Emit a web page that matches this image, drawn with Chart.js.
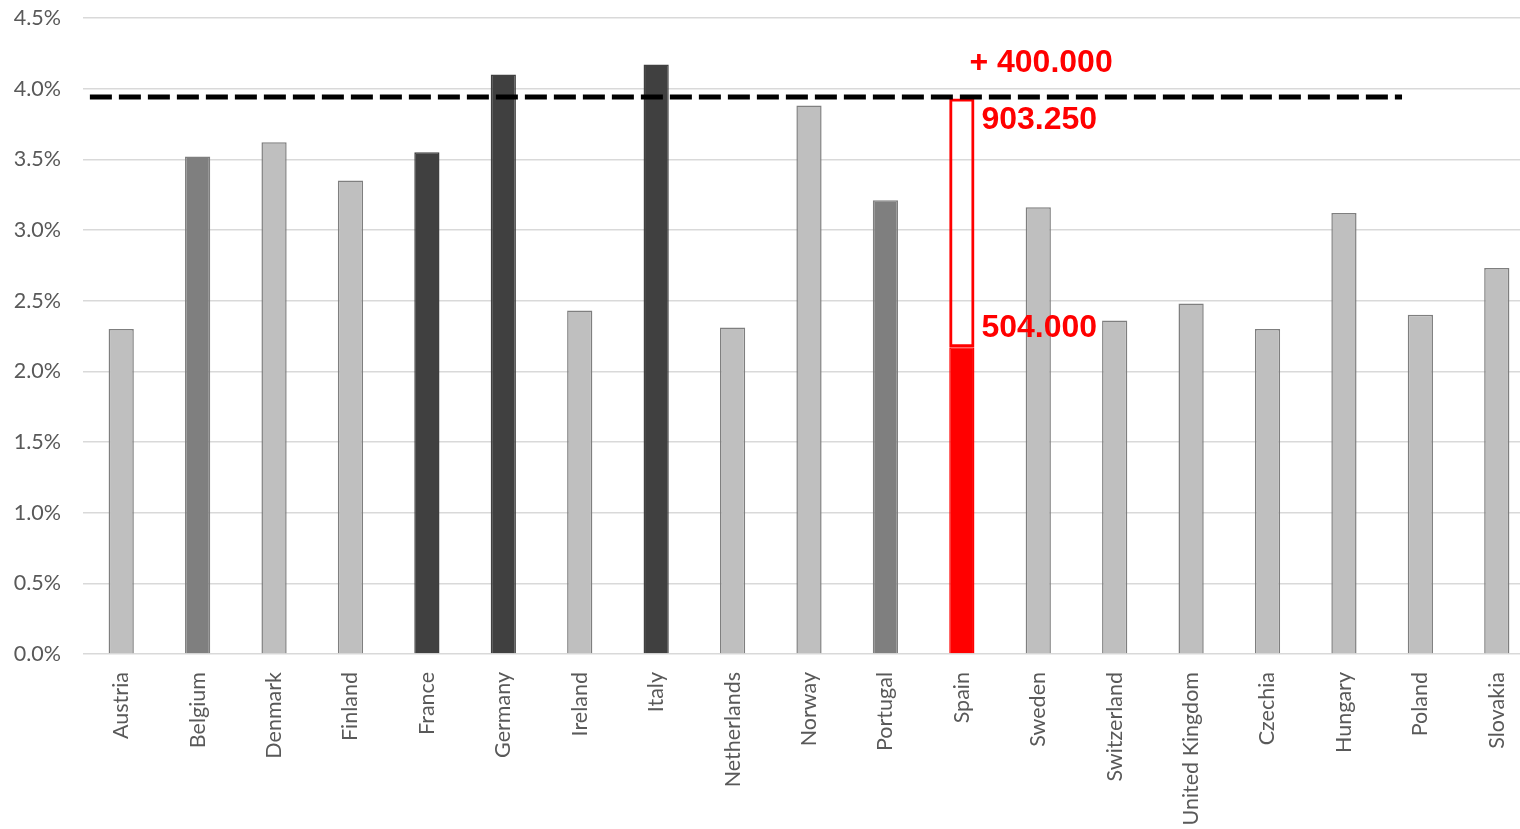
<!DOCTYPE html>
<html>
<head>
<meta charset="utf-8">
<script src="https://cdn.jsdelivr.net/npm/chart.js@4"></script>
<style>
    html, body { margin: 0; padding: 0; background: #ffffff; overflow: hidden; }
    #wrap { width: 1535px; height: 846px; margin-top: -17px; }
</style>
</head>
<body>
<div id="wrap"><canvas id="chart" width="1535" height="846"></canvas></div>
<script>
// Countries on the x axis
const countries = ['Austria', 'Belgium', 'Denmark', 'Finland', 'France', 'Germany', 'Ireland', 'Italy',
    'Netherlands', 'Norway', 'Portugal', 'Spain', 'Sweden', 'Switzerland', 'United Kingdom',
    'Czechia', 'Hungary', 'Poland', 'Slovakia'];

// Share (%) per country
const shares = [2.30, 3.52, 3.62, 3.35, 3.55, 4.10, 2.43, 4.17, 2.31, 3.88, 3.21, 2.17, 3.16, 2.36,
    2.48, 2.30, 3.12, 2.40, 2.73];

// Spain target range (current -> target)
const spainRange = [2.17, 3.93];

// Reference level (dashed line), start and end on the category index scale
const refLevel = 3.94;
const refSpan = [-0.41, 16.76];

// Annotation texts
const labelIncrease = '+ 400.000';
const labelTarget = '903.250';
const labelCurrent = '504.000';

// Y axis ticks
const yMin = 0;
const yMax = 4.5;
const yStep = 0.5;

const darkCountries = ['France', 'Germany', 'Italy'];
const midCountries = ['Belgium', 'Portugal'];
const highlight = 'Spain';

function fillFor(name) {
    if (name === highlight) return '#ff0000';
    if (darkCountries.includes(name)) return '#404040';
    if (midCountries.includes(name)) return '#7f7f7f';
    return '#bfbfbf';
}

function borderFor(name) {
    if (name === highlight) return '#ff0000';
    if (darkCountries.includes(name)) return '#404040';
    return '#7f7f7f';
}

// Red labels next to the Spain bar
const spainLabels = {
    id: 'spainLabels',
    afterDatasetsDraw(chart) {
        const { ctx, scales: { y } } = chart;
        const i = countries.indexOf(highlight);
        const bar = chart.getDatasetMeta(1).data[i];
        const right = bar.x + bar.width / 2;

        ctx.save();
        ctx.fillStyle = '#ff0000';
        ctx.font = 'bold 32px "Liberation Sans", Arial, sans-serif';
        ctx.textAlign = 'left';
        ctx.textBaseline = 'middle';
        ctx.fillText(labelIncrease, right - 5, y.getPixelForValue(refLevel) - 34);
        ctx.fillText(labelTarget, right + 7, y.getPixelForValue(spainRange[1]) + 22);
        ctx.fillText(labelCurrent, right + 7, y.getPixelForValue(spainRange[0]) - 19);
        ctx.restore();
    }
};

const ctx = document.getElementById('chart').getContext('2d');

new Chart(ctx, {
    type: 'bar',
    data: {
        labels: countries,
        datasets: [
            {
                type: 'line',
                data: refSpan.map(x => ({ x: x, y: refLevel })),
                xAxisID: 'x2',
                borderColor: '#000000',
                borderWidth: 5,
                borderDash: [22, 7],
                borderCapStyle: 'butt',
                pointRadius: 0,
                fill: false,
                order: 0
            },
            {
                data: shares,
                backgroundColor: countries.map(fillFor),
                borderColor: countries.map(borderFor),
                borderWidth: 1.5,
                grouped: false,
                categoryPercentage: 1,
                barPercentage: 0.33,
                order: 2
            },
            {
                // outline showing the gap to the target for Spain
                data: countries.map(c => c === highlight ? spainRange : null),
                backgroundColor: 'rgba(255,255,255,0)',
                borderColor: '#ff0000',
                borderWidth: 3,
                borderSkipped: false,
                grouped: false,
                categoryPercentage: 1,
                barPercentage: 0.33,
                order: 1
            }
        ]
    },
    options: {
        responsive: false,
        animation: false,
        devicePixelRatio: 1,
        layout: { padding: { top: 4, left: 0, right: 0, bottom: 0 } },
        plugins: {
            legend: { display: false },
            tooltip: { enabled: false }
        },
        scales: {
            x: {
                offset: true,
                grid: { display: false },
                border: { display: false },
                ticks: {
                    color: '#595959',
                    font: { family: 'Lato', size: 21.5 },
                    minRotation: 90,
                    maxRotation: 90,
                    padding: 10,
                    autoSkip: false
                },
                afterFit(scale) { scale.height = 175; }
            },
            x2: {
                type: 'linear',
                display: false,
                offset: false,
                min: -0.5,
                max: countries.length - 0.5
            },
            y: {
                min: yMin,
                max: yMax,
                border: { display: false },
                grid: { color: '#d9d9d9', lineWidth: 1.5, drawTicks: false },
                ticks: {
                    stepSize: yStep,
                    color: '#595959',
                    font: { family: 'Lato', size: 21.5 },
                    padding: 22,
                    callback: v => v.toFixed(1) + '%'
                },
                afterFit(scale) { scale.width = 83; }
            }
        }
    },
    plugins: [spainLabels]
});
</script>
</body>
</html>
